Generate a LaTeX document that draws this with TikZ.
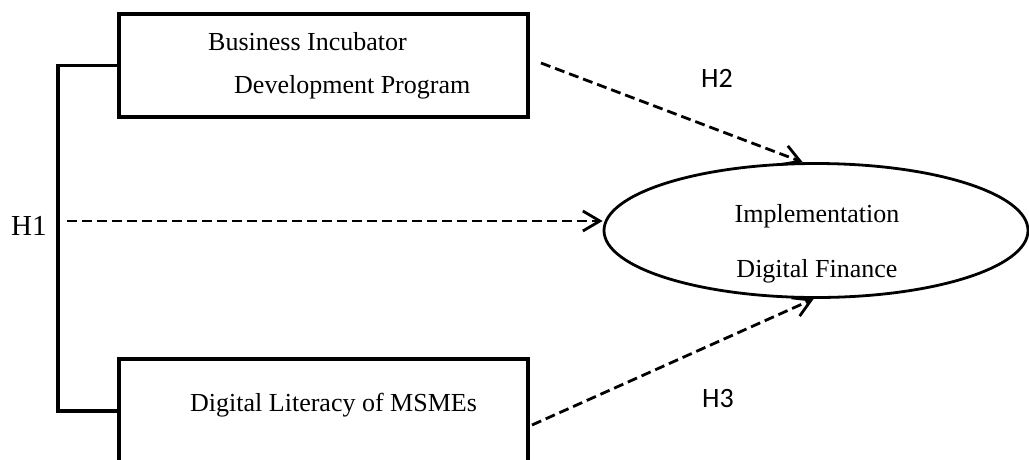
\documentclass[tikz,border=0pt]{standalone}
\usepackage{fontspec}
\setmainfont{Liberation Serif}
\newfontfamily\labelsans{Carlito}
\usetikzlibrary{shapes.geometric,arrows.meta}

\tikzset{
  varbox/.style={draw, line width=3.5pt, rectangle, inner sep=0pt,
                 minimum width=409pt, minimum height=103pt},
  outcome/.style={draw, line width=2.8pt, ellipse, inner sep=0pt,
                  minimum width=424pt, minimum height=134pt},
  boxtext/.style={inner sep=0pt, font=\fontsize{26}{30}\selectfont},
  hyplabel/.style={inner sep=0pt, font=\labelsans\fontsize{28}{32}\selectfont},
  hyparrow/.style={line width=2.8pt, dash pattern=on 10pt off 5pt,
                   -{Straight Barb[length=17pt,width=20pt]}},
  bracket/.style={line width=3.5pt}
}

\begin{document}
\begin{tikzpicture}[x=1pt,y=-1pt]
  \useasboundingbox (0,0) rectangle (1029,459);
  \clip (0,0) rectangle (1029,459);

  % independent variables
  \node[varbox] (incub) at (323.5,65.5) {};
  \node[varbox, minimum height=104pt] (liter) at (323.5,411) {};

  % dependent variable
  \node[outcome] (dfin) at (816,230.5) {};

  % texts of the variables
  \node[boxtext, anchor=base west] (t1) at (208,50) {Business Incubator};
  \node[boxtext, anchor=base west] (t2) at (234,93) {Development Program};
  \node[boxtext, anchor=base west] (t3) at (190,411) {Digital Literacy of MSMEs};
  \node[boxtext, anchor=base] (t4) at (817,222) {Implementation};
  \node[boxtext, anchor=base] (t5) at (817,277) {Digital Finance};

  % bracket joining both independent variables
  \coordinate (spine) at (58,0);
  \draw[bracket] (incub.west) -- (incub.west -| spine) -- (liter.west -| spine) -- (liter.west);

  % hypotheses
  \coordinate (h1s) at (67,221);
  \coordinate (h2s) at (541,63);
  \coordinate (h3s) at (532,425);
  \draw[hyparrow] (h1s) -- (h1s -| dfin.west);
  \draw[hyparrow] (h2s) -- (dfin.101);
  \draw[hyparrow] (h3s) -- (dfin.268);

  \node[anchor=base west, inner sep=0pt, font=\fontsize{29}{33}\selectfont] (lh1) at (11,235) {H1};
  \node[hyplabel, anchor=base west] (lh2) at (701,87) {H2};
  \node[hyplabel, anchor=base west] (lh3) at (702,407) {H3};
\end{tikzpicture}
\end{document}
